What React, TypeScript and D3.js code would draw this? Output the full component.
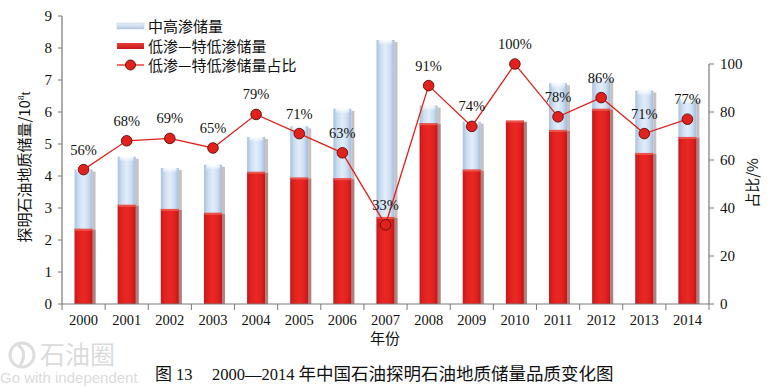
import React from 'react';
import * as d3 from 'd3';

const years = ['2000','2001','2002','2003','2004','2005','2006','2007','2008','2009','2010','2011','2012','2013','2014'];
const totalReserves = [4.2, 4.6, 4.25, 4.35, 5.22, 5.55, 6.1, 8.25, 6.2, 5.7, 5.73, 6.9, 7.05, 6.67, 6.4];
const lowPermReserves = [2.35, 3.1, 2.97, 2.85, 4.13, 3.95, 3.93, 2.72, 5.65, 4.2, 5.73, 5.44, 6.1, 4.72, 5.22];
const lowPermShare = [56, 68, 69, 65, 79, 71, 63, 33, 91, 74, 100, 78, 86, 71, 77];
const leftTicks = [0, 1, 2, 3, 4, 5, 6, 7, 8, 9];
const rightTicks = [0, 20, 40, 60, 80, 100];
const legendLabels = ['中高渗储量', '低渗—特低渗储量', '低渗—特低渗储量占比'];

const SERIF = "'Liberation Serif', 'DejaVu Serif', serif";
const CJK = "'Noto Sans CJK SC', sans-serif";

export default function App() {
  const W = 775, H = 388;
  const left = 62, right = 709, top = 16, bottom = 304;
  const x = d3.scaleBand<string>().domain(years).range([left, right]).padding(0);
  const y = d3.scaleLinear().domain([0, 9]).range([bottom, top]);
  const y2 = d3.scaleLinear().domain([0, 100]).range([bottom, 64]);
  const barW = 18;
  const cx = (yr: string) => (x(yr) as number) + x.bandwidth() / 2;

  const line = d3.line<number>()
    .x((_, i) => cx(years[i]))
    .y((d) => y2(d));

  const axisColor = '#7a7a7a';

  return (
    <svg width={W} height={H} style={{ position: 'absolute', left: 0, top: 0, background: '#fff' }}>
      <defs>
        <linearGradient id="blueG" x1="0" x2="1" y1="0" y2="0">
          <stop offset="0" stopColor="#a9c1de" />
          <stop offset="0.25" stopColor="#cddff3" />
          <stop offset="0.5" stopColor="#e3edf9" />
          <stop offset="0.75" stopColor="#cddff3" />
          <stop offset="1" stopColor="#a3bbd9" />
        </linearGradient>
        <linearGradient id="capG" x1="0" x2="0" y1="0" y2="1">
          <stop offset="0" stopColor="#ffffff" stopOpacity="0.95" />
          <stop offset="1" stopColor="#ffffff" stopOpacity="0" />
        </linearGradient>
        <linearGradient id="redG" x1="0" x2="1" y1="0" y2="0">
          <stop offset="0" stopColor="#c8181a" />
          <stop offset="0.25" stopColor="#e3221f" />
          <stop offset="0.5" stopColor="#e82822" />
          <stop offset="0.75" stopColor="#e3221f" />
          <stop offset="1" stopColor="#c01618" />
        </linearGradient>
        <linearGradient id="legBlue" x1="0" x2="0" y1="0" y2="1">
          <stop offset="0" stopColor="#e8f0fa" />
          <stop offset="1" stopColor="#b5c9e2" />
        </linearGradient>
        <linearGradient id="legRed" x1="0" x2="0" y1="0" y2="1">
          <stop offset="0" stopColor="#e8413a" />
          <stop offset="1" stopColor="#c8181a" />
        </linearGradient>
      </defs>

      {/* watermark */}
      <g opacity={0.6}>
        <circle cx={22} cy={355} r={12} fill="none" stroke="#c8c8c8" strokeWidth={3} />
        <path d="M18,345 Q28,352 20,366" fill="none" stroke="#c8c8c8" strokeWidth={3} />
        <text x={40} y={364} fontSize={25} fill="#c4c4c4" fontFamily={CJK}>石油圈</text>
        <text x={0} y={383} fontSize={15} fill="#c4c4c4" fontFamily="'Liberation Sans', sans-serif">Go with independent</text>
      </g>

      {/* bars */}
      {years.map((yr, i) => {
        const bx = cx(yr) - barW / 2;
        const tTop = y(totalReserves[i]);
        const rTop = y(lowPermReserves[i]);
        return (
          <g key={yr}>
            <rect x={bx + barW} y={tTop + 2} width={3} height={bottom - tTop - 2} fill="#b9b3b0" opacity={0.8} />
            <rect x={bx} y={tTop} width={barW} height={bottom - tTop} fill="url(#blueG)" />
            <rect x={bx + 2} y={tTop} width={barW - 4} height={5} fill="url(#capG)" rx={2} />
            <rect x={bx + barW} y={rTop + 1} width={3} height={bottom - rTop - 1} fill="#a9706a" opacity={0.8} />
            <rect x={bx} y={rTop} width={barW} height={bottom - rTop} fill="url(#redG)" />
            <rect x={bx} y={rTop} width={barW} height={2} fill="#f06a5e" opacity={0.7} />
          </g>
        );
      })}

      {/* axes */}
      <line x1={left} x2={left} y1={top} y2={bottom} stroke={axisColor} strokeWidth={1.2} />
      <line x1={right} x2={right} y1={64} y2={bottom} stroke={axisColor} strokeWidth={1.2} />
      <line x1={left} x2={right} y1={bottom} y2={bottom} stroke={axisColor} strokeWidth={1.2} />

      {leftTicks.map((t) => (
        <g key={'l' + t}>
          <line x1={left - 4} x2={left} y1={y(t)} y2={y(t)} stroke={axisColor} strokeWidth={1} />
          <text x={left - 10} y={y(t) + 5} textAnchor="end" fontSize={15} fontFamily={SERIF} fill="#111">{t}</text>
        </g>
      ))}
      {rightTicks.map((t) => (
        <g key={'r' + t}>
          <line x1={right} x2={right + 5} y1={y2(t)} y2={y2(t)} stroke={axisColor} strokeWidth={1} />
          <text x={right + 11} y={y2(t) + 5} textAnchor="start" fontSize={15} fontFamily={SERIF} fill="#111">{t}</text>
        </g>
      ))}
      {years.map((yr, i) => (
        <g key={'x' + yr}>
          <line x1={x(yr) as number} x2={x(yr) as number} y1={bottom} y2={bottom + 6} stroke={axisColor} strokeWidth={1} />
          {i === years.length - 1 && (
            <line x1={right} x2={right} y1={bottom} y2={bottom + 6} stroke={axisColor} strokeWidth={1} />
          )}
          <text x={cx(yr)} y={bottom + 21} textAnchor="middle" fontSize={14.5} fontFamily={SERIF} fill="#111">{yr}</text>
        </g>
      ))}

      {/* axis titles */}
      <text transform={`translate(30,167) rotate(-90)`} textAnchor="middle" fontSize={15} fontFamily={CJK} fill="#111">
        探明石油地质储量/10<tspan fontSize={9} dy={-6} fontFamily={SERIF}>8</tspan><tspan dy={6} fontFamily={SERIF} fontSize={15}>t</tspan>
      </text>
      <text transform={`translate(758,183) rotate(-90)`} textAnchor="middle" fontSize={15} fontFamily={CJK} fill="#111">占比/%</text>
      <text x={385} y={344} textAnchor="middle" fontSize={15} fontFamily={CJK} fill="#111">年份</text>

      {/* share line */}
      <path d={line(lowPermShare) || ''} fill="none" stroke="#e3211c" strokeWidth={1.3} />
      {lowPermShare.map((v, i) => (
        <g key={'p' + i}>
          <circle cx={cx(years[i])} cy={y2(v)} r={5.3} fill="#e3211c" stroke="#5a0c0c" strokeWidth={0.9} />
          <text x={cx(years[i])} y={y2(v) - 15} textAnchor="middle" fontSize={14.5} fontFamily={SERIF} fill="#111">{v}%</text>
        </g>
      ))}

      {/* legend */}
      <rect x={117} y={23} width={27} height={6} fill="url(#legBlue)" stroke="#b8c8dc" strokeWidth={0.5} />
      <text x={148} y={32} fontSize={15} fontFamily={CJK} fill="#111">{legendLabels[0]}</text>
      <rect x={117} y={43} width={27} height={6} fill="url(#legRed)" />
      <text x={148} y={52} fontSize={15} fontFamily={CJK} fill="#111">{legendLabels[1]}</text>
      <line x1={117} x2={144} y1={65} y2={65} stroke="#e3211c" strokeWidth={1.3} />
      <circle cx={130.5} cy={65} r={5} fill="#e3211c" stroke="#5a0c0c" strokeWidth={0.9} />
      <text x={148} y={71} fontSize={15} fontFamily={CJK} fill="#111">{legendLabels[2]}</text>

      {/* caption */}
      <text x={155} y={380} fontSize={17} fontFamily={CJK} fill="#111">图</text>
      <text x={176} y={380} fontSize={16.5} fontFamily={SERIF} fill="#111">13</text>
      <text x={212} y={380} fontSize={16.5} fontFamily={SERIF} fill="#111">
        2000—2014<tspan fontFamily={CJK} fontSize={17.5} dx={4}>年中国石油探明石油地质储量品质变化图</tspan>
      </text>
    </svg>
  );
}
